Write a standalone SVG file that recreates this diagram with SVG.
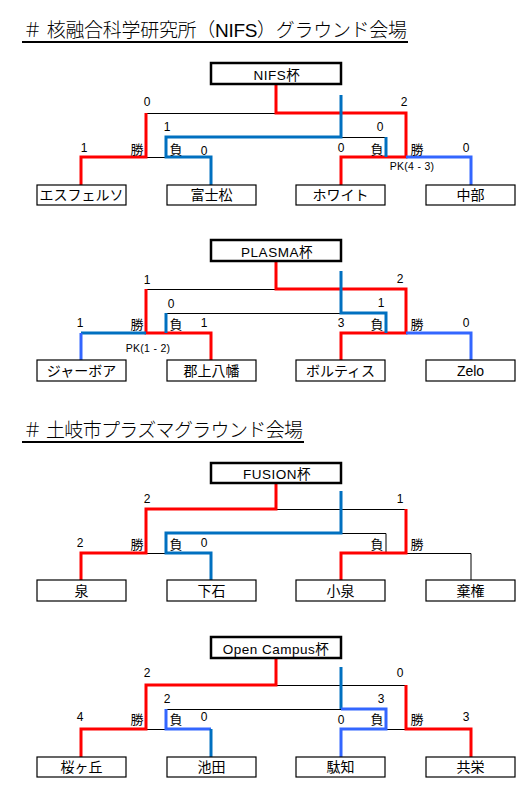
<svg xmlns="http://www.w3.org/2000/svg" width="530" height="798" viewBox="0 0 530 798">
<style>
text{font-family:"Liberation Sans","Noto Sans CJK JP",sans-serif;fill:#000}
.h{font-size:19px;font-weight:300}
.cup{font-size:13.5px;text-anchor:middle;letter-spacing:0.5px}
.team{font-size:14px;text-anchor:middle}
.sc{font-size:12px;text-anchor:middle}
.wl{font-size:13px;text-anchor:middle}
.pk{font-size:10.5px;text-anchor:middle;letter-spacing:0.3px}
.tb{fill:#fff;stroke:#000;stroke-width:2.5}
.nb{fill:#fff;stroke:#000;stroke-width:1.2}
.k{fill:none;stroke:#000;stroke-width:1}
.r{fill:none;stroke:#FF0000;stroke-width:3}
.b{fill:none;stroke:#0070C0;stroke-width:3}
.lb{fill:none;stroke:#3366FF;stroke-width:3}
.ul{stroke:#000;stroke-width:2}
</style>
<g id="headings">
<text class="h" x="23" y="37" textLength="384">＃ 核融合科学研究所（NIFS）グラウンド会場</text>
<line class="ul" x1="22" y1="42" x2="408" y2="42"/>
<text class="h" x="23" y="437" textLength="280">＃ 土岐市プラズマグラウンド会場</text>
<line class="ul" x1="22" y1="442" x2="304" y2="442"/>
</g>
<g id="connectors">
<!-- NIFS -->
<path class="k" d="M276 84V113.5M146 157.5V113.5H406V157M166 157V137.5H386V157M81 185V157.5H211V185M341 185V157.5H471V185"/>
<path class="r" d="M81 185V157H146V113"/>
<path class="r" d="M276 84V113H406V157H341V185"/>
<path class="b" d="M211 185V157H166V137H341V95"/>
<path class="b" d="M386 137V157"/>
<path class="lb" d="M406 157H471V185"/>
<!-- PLASMA -->
<path class="k" d="M146 289.5H406M166 333V313.5H386V333M81 360V333.5H211M341 333.5H471V360"/>
<path class="r" d="M276 262V289H406V333H341V360"/>
<path class="r" d="M146 289V333H211V360"/>
<path class="b" d="M81 333H146"/>
<path class="lb" d="M81 333V360"/>
<path class="b" d="M166 313V333"/>
<path class="b" d="M341 271V313H386V333"/>
<path class="lb" d="M406 333H471V360"/>
<!-- FUSION -->
<path class="k" d="M146 509.5H406V553M166 553V533.5H386V553.5M81 580V553.5H211V580M341 580V553.5H471V580"/>
<path class="r" d="M276 482V509H146V553H81V580"/>
<path class="r" d="M406 509V553H341V580"/>
<path class="b" d="M211 580V553H166V533H341V491"/>
<!-- Open Campus -->
<path class="k" d="M146 685.5H406V729M166 729V709.5H386V729M81 757V729.5H211V757M341 757V729.5H471V757"/>
<path class="r" d="M276 658V685H146V729H81V757"/>
<path class="r" d="M406 685V729H471V757"/>
<path class="lb" d="M166 709V729H211"/>
<path class="b" d="M211 729V757"/>
<path class="b" d="M341 667V709"/>
<path class="lb" d="M341 709H386V729H341V757"/>
</g>
<!-- NIFS nodes -->
<g id="cup-nifs"><rect class="tb" x="211" y="63" width="130" height="21"/><text class="cup" x="277" y="79.5">NIFS杯</text></g>
<g id="team-esferuso"><rect class="nb" x="37" y="185" width="89" height="20"/><text class="team" x="81.5" y="200">エスフェルソ</text></g>
<g id="team-fujimatsu"><rect class="nb" x="167" y="185" width="89" height="20"/><text class="team" x="211.5" y="200">富士松</text></g>
<g id="team-white"><rect class="nb" x="296" y="185" width="89" height="20"/><text class="team" x="340.5" y="200">ホワイト</text></g>
<g id="team-chubu"><rect class="nb" x="426" y="185" width="89" height="20"/><text class="team" x="470.5" y="200">中部</text></g>
<!-- PLASMA nodes -->
<g id="cup-plasma"><rect class="tb" x="211" y="240" width="130" height="21"/><text class="cup" x="277" y="256.5">PLASMA杯</text></g>
<g id="team-jerboa"><rect class="nb" x="37" y="360" width="89" height="21"/><text class="team" x="81.5" y="376">ジャーボア</text></g>
<g id="team-gujohachiman"><rect class="nb" x="167" y="360" width="89" height="21"/><text class="team" x="211.5" y="376">郡上八幡</text></g>
<g id="team-voltis"><rect class="nb" x="296" y="360" width="89" height="21"/><text class="team" x="340.5" y="376">ボルティス</text></g>
<g id="team-zelo"><rect class="nb" x="426" y="360" width="89" height="21"/><text class="team" x="470.5" y="376">Zelo</text></g>
<!-- FUSION nodes -->
<g id="cup-fusion"><rect class="tb" x="211" y="463" width="130" height="20"/><text class="cup" x="277" y="478.5">FUSION杯</text></g>
<g id="team-izumi"><rect class="nb" x="37" y="580" width="89" height="21"/><text class="team" x="81.5" y="596">泉</text></g>
<g id="team-oroshi"><rect class="nb" x="167" y="580" width="89" height="21"/><text class="team" x="211.5" y="596">下石</text></g>
<g id="team-koizumi"><rect class="nb" x="296" y="580" width="89" height="21"/><text class="team" x="340.5" y="596">小泉</text></g>
<g id="team-kiken"><rect class="nb" x="426" y="580" width="89" height="21"/><text class="team" x="470.5" y="596">棄権</text></g>
<!-- Open Campus nodes -->
<g id="cup-open"><rect class="tb" x="211" y="637" width="130" height="21"/><text class="cup" x="276" y="653.5">Open Campus杯</text></g>
<g id="team-sakuragaoka"><rect class="nb" x="37" y="757" width="89" height="20"/><text class="team" x="81.5" y="772">桜ヶ丘</text></g>
<g id="team-ikeda"><rect class="nb" x="167" y="757" width="89" height="20"/><text class="team" x="211.5" y="772">池田</text></g>
<g id="team-dachi"><rect class="nb" x="296" y="757" width="89" height="20"/><text class="team" x="340.5" y="772">駄知</text></g>
<g id="team-kyoei"><rect class="nb" x="426" y="757" width="89" height="20"/><text class="team" x="470.5" y="772">共栄</text></g>
<g id="labels">
<!-- NIFS -->
<text class="sc" x="147" y="106">0</text>
<text class="sc" x="404" y="106">2</text>
<text class="sc" x="167" y="131">1</text>
<text class="sc" x="380" y="131">0</text>
<text class="sc" x="84" y="152">1</text>
<text class="wl" x="137" y="154">勝</text>
<text class="wl" x="176" y="154">負</text>
<text class="sc" x="204" y="155">0</text>
<text class="sc" x="341" y="152">0</text>
<text class="wl" x="377" y="154">負</text>
<text class="wl" x="417" y="154">勝</text>
<text class="sc" x="466" y="152">0</text>
<text class="pk" x="412" y="170">PK(4 - 3)</text>
<!-- PLASMA -->
<text class="sc" x="147" y="284">1</text>
<text class="sc" x="171" y="307.5">0</text>
<text class="sc" x="80" y="327">1</text>
<text class="wl" x="137" y="329">勝</text>
<text class="wl" x="176" y="329">負</text>
<text class="sc" x="204" y="327">1</text>
<text class="pk" x="148" y="352">PK(1 - 2)</text>
<text class="sc" x="400" y="282.5">2</text>
<text class="sc" x="381" y="307">1</text>
<text class="sc" x="341" y="327">3</text>
<text class="wl" x="377" y="329">負</text>
<text class="wl" x="417" y="329">勝</text>
<text class="sc" x="466" y="327">0</text>
<!-- FUSION -->
<text class="sc" x="147" y="502.5">2</text>
<text class="sc" x="80" y="547">2</text>
<text class="wl" x="137" y="549">勝</text>
<text class="wl" x="176" y="549">負</text>
<text class="sc" x="204" y="547">0</text>
<text class="sc" x="400" y="502.5">1</text>
<text class="wl" x="377" y="549">負</text>
<text class="wl" x="417" y="549">勝</text>
<!-- Open Campus -->
<text class="sc" x="147" y="677">2</text>
<text class="sc" x="167" y="702.5">2</text>
<text class="sc" x="80" y="721">4</text>
<text class="wl" x="137" y="724">勝</text>
<text class="wl" x="176" y="724">負</text>
<text class="sc" x="204" y="721">0</text>
<text class="sc" x="400" y="677">0</text>
<text class="sc" x="381" y="702.5">3</text>
<text class="sc" x="341" y="723.5">0</text>
<text class="wl" x="377" y="724">負</text>
<text class="wl" x="417" y="724">勝</text>
<text class="sc" x="466" y="721">3</text>
</g>
</svg>
